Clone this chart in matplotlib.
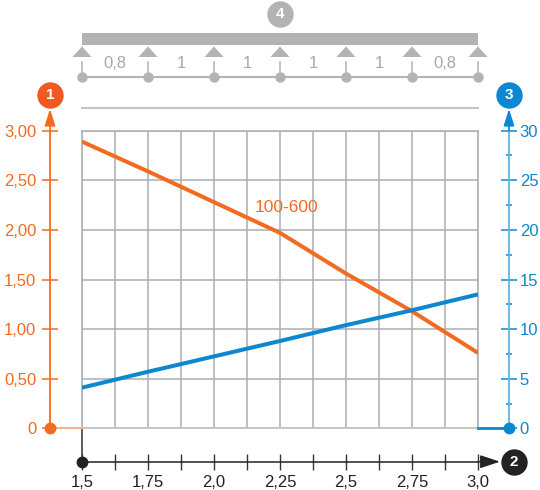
import matplotlib
matplotlib.use('Agg')
import matplotlib.pyplot as plt
import matplotlib.transforms as mtransforms
from matplotlib.patches import Polygon, Rectangle
from matplotlib.ticker import MultipleLocator

plt.rcParams['font.family'] = ['Liberation Sans', 'DejaVu Sans']

# ---- data ----
span_x = [1.5, 1.75, 2.0, 2.25, 2.5, 2.75, 3.0]
load_values = [2.89, 2.59, 2.28, 1.97, 1.56, 1.18, 0.76]
deflection_values = [4.1, 5.7, 7.25, 8.8, 10.4, 11.9, 13.5]
series_label = '100-600'
x_tick_values = [1.5, 1.75, 2.0, 2.25, 2.5, 2.75, 3.0]
x_tick_labels = ['1,5', '1,75', '2,0', '2,25', '2,5', '2,75', '3,0']
left_tick_values = [0, 0.5, 1.0, 1.5, 2.0, 2.5, 3.0]
left_tick_labels = ['0', '0,50', '1,00', '1,50', '2,00', '2,50', '3,00']
right_tick_values = [0, 5, 10, 15, 20, 25, 30]
right_tick_labels = ['0', '5', '10', '15', '20', '25', '30']
support_x = [1.5, 1.75, 2.0, 2.25, 2.5, 2.75, 3.0]
span_labels = ['0,8', '1', '1', '1', '1', '0,8']
badge_labels = ['1', '2', '3', '4']

ORANGE = '#f26b21'
ORANGE_LIGHT = '#f8b28a'
ORANGE_BADGE = '#f05a22'
BLUE = '#0d87cf'
BLUE_LIGHT = '#5cb8ea'
GRID = '#a9afb5'
BEAM = '#b3b3b3'
DARK = '#222222'

fig = plt.figure(figsize=(5.4, 4.9), dpi=100)
ax = fig.add_axes([82 / 540, 61.7 / 490, 396 / 540, 297.6 / 490])
ax.set_xlim(1.5, 3.0)
ax.set_ylim(0, 3.0)
ax.patch.set_visible(False)
ax2 = ax.twinx()
ax2.set_ylim(0, 30)

# grid
ax.set_xticks(x_tick_values, x_tick_labels)
ax.xaxis.set_minor_locator(MultipleLocator(0.125))
ax.set_yticks(left_tick_values, left_tick_labels)
ax.grid(which='both', axis='x', color=GRID, lw=1.1)
ax.grid(which='major', axis='y', color=GRID, lw=1.1)
ax.axvline(1.5, color=GRID, lw=1.1, clip_on=False, zorder=1.5)
ax.axvline(3.0, color=GRID, lw=1.1, clip_on=False, zorder=1.5)
ax.axhline(3.0, color=GRID, lw=1.1, clip_on=False, zorder=1.5)
ax.axhline(0, color='#c4c4c4', lw=1.3, clip_on=False, zorder=1.6)

# spines
xl = -32 / 396
xr = 1 + 31 / 396
yb = -33.4 / 297.6
for s in ['top', 'right']:
    ax.spines[s].set_visible(False)
for s in ['top', 'left', 'bottom']:
    ax2.spines[s].set_visible(False)
ax.spines['left'].set_position(('axes', xl))
ax.spines['left'].set_color(ORANGE)
ax.spines['left'].set_linewidth(1.3)
ax.spines['left'].set_bounds(0, 3.0)
ax.spines['bottom'].set_position(('axes', yb))
ax.spines['bottom'].set_color(DARK)
ax.spines['bottom'].set_linewidth(1.1)
ax.spines['bottom'].set_bounds(1.5, 3.0)
ax2.spines['right'].set_position(('axes', xr))
ax2.spines['right'].set_color(BLUE_LIGHT)
ax2.spines['right'].set_linewidth(1.3)
ax2.spines['right'].set_bounds(0, 30)

# ticks
ax.tick_params(axis='y', direction='inout', length=11.5, width=1.1,
               color=ORANGE, labelcolor=ORANGE, labelsize=12, pad=4)
ax.tick_params(axis='x', which='both', direction='inout', length=11.5, width=1.0,
               color='#333333', labelcolor=DARK, labelsize=12, pad=4)
ax2.set_yticks(right_tick_values, right_tick_labels)
ax2.yaxis.set_minor_locator(MultipleLocator(2.5))
ax2.tick_params(axis='y', which='major', direction='inout', length=11.5, width=1.1,
                color=BLUE, labelcolor=BLUE, labelsize=12, pad=2)
ax2.tick_params(axis='y', which='minor', direction='inout', length=4.3, width=1.1,
                color=BLUE)

# series
ax.plot(span_x, load_values, color=ORANGE, lw=2.9, solid_capstyle='butt', zorder=3)
ax2.plot(span_x, deflection_values, color=BLUE, lw=2.9, solid_capstyle='butt', zorder=3)
ax.text(2.155, 2.23, series_label, color=ORANGE, fontsize=12.5, ha='left', va='center')

# left axis decorations
tl = mtransforms.blended_transform_factory(ax.transAxes, ax.transData)
ax.annotate('', xy=(xl, 3.22), xytext=(xl, 3.0), xycoords=tl, textcoords=tl,
            arrowprops=dict(arrowstyle='-|>,head_length=0.5,head_width=0.16',
                            mutation_scale=20, color=ORANGE, lw=1.3,
                            shrinkA=0, shrinkB=0), annotation_clip=False)
ax.plot([xl, 0], [0, 0], color=ORANGE_LIGHT, lw=1.5, transform=tl, clip_on=False, zorder=4)
ax.plot([xl], [0], 'o', ms=7.5, color=ORANGE, transform=tl, clip_on=False, zorder=5)
ax.plot([xl], [3.36], 'o', ms=19, color=ORANGE_BADGE, mec='none', transform=tl, clip_on=False)
ax.text(xl, 3.36, badge_labels[0], color='white', fontsize=11, fontweight='bold',
        ha='center', va='center', transform=tl)

# right axis decorations
tr = mtransforms.blended_transform_factory(ax2.transAxes, ax2.transData)
ax2.annotate('', xy=(xr, 32.2), xytext=(xr, 30.0), xycoords=tr, textcoords=tr,
             arrowprops=dict(arrowstyle='-|>,head_length=0.5,head_width=0.16',
                             mutation_scale=20, color=BLUE, lw=1.3,
                             shrinkA=0, shrinkB=0), annotation_clip=False)
ax2.plot([1, xr], [0, 0], color=BLUE, lw=2.0, transform=tr, clip_on=False, zorder=4)
ax2.plot([xr], [0], 'o', ms=7.5, color=BLUE, transform=tr, clip_on=False, zorder=5)
ax2.plot([xr], [33.6], 'o', ms=19, color=BLUE, mec='none', transform=tr, clip_on=False)
ax2.text(xr, 33.6, badge_labels[2], color='white', fontsize=11, fontweight='bold',
         ha='center', va='center', transform=tr)

# bottom axis decorations
tb = mtransforms.blended_transform_factory(ax.transData, ax.transAxes)
ax.annotate('', xy=(3.083, yb), xytext=(3.0, yb), xycoords=tb, textcoords=tb,
            arrowprops=dict(arrowstyle='-|>,head_length=0.6,head_width=0.2',
                            mutation_scale=20, color=DARK, lw=1.1,
                            shrinkA=0, shrinkB=0), annotation_clip=False)
ax.plot([1.5, 1.5], [0, yb], color='#333333', lw=1.1, transform=tb, clip_on=False)
ax.plot([1.5], [yb], 'o', ms=7.5, color=DARK, transform=tb, clip_on=False, zorder=5)
ax.plot([3.136], [yb], 'o', ms=19, color=DARK, mec='none', transform=tb, clip_on=False)
ax.text(3.136, yb, badge_labels[1], color='white', fontsize=11, fontweight='bold',
        ha='center', va='center', transform=tb)

# top beam diagram
ax.add_patch(Rectangle((1.5, 3.866), 1.5, 0.114, color=BEAM, clip_on=False, lw=0))
for sx in support_x:
    ax.add_patch(Polygon([(sx - 0.036, 3.743), (sx + 0.036, 3.743), (sx, 3.849)],
                         closed=True, color=BEAM, clip_on=False, lw=0))
    ax.plot([sx, sx], [3.59, 3.692], color=BEAM, lw=1.1, clip_on=False)
ax.plot([support_x[0], support_x[-1]], [3.546, 3.546], color=BEAM, lw=1.5, clip_on=False)
ax.plot(support_x, [3.546] * len(support_x), 'o', ms=7.5, color=BEAM, mec='none',
        clip_on=False, ls='none')
for i, lab in enumerate(span_labels):
    mx = (support_x[i] + support_x[i + 1]) / 2
    ax.text(mx, 3.68, lab, color='#a8a8a8', fontsize=12, ha='center', va='center')
ax.plot([1.5, 3.0], [3.233, 3.233], color='#c4c4c4', lw=1.5, clip_on=False)
ax.plot([2.25], [4.18], 'o', ms=19, color=BEAM, mec='none', clip_on=False)
ax.text(2.25, 4.18, badge_labels[3], color='white', fontsize=11, fontweight='bold',
        ha='center', va='center')

fig.savefig('out.png', dpi=100)
